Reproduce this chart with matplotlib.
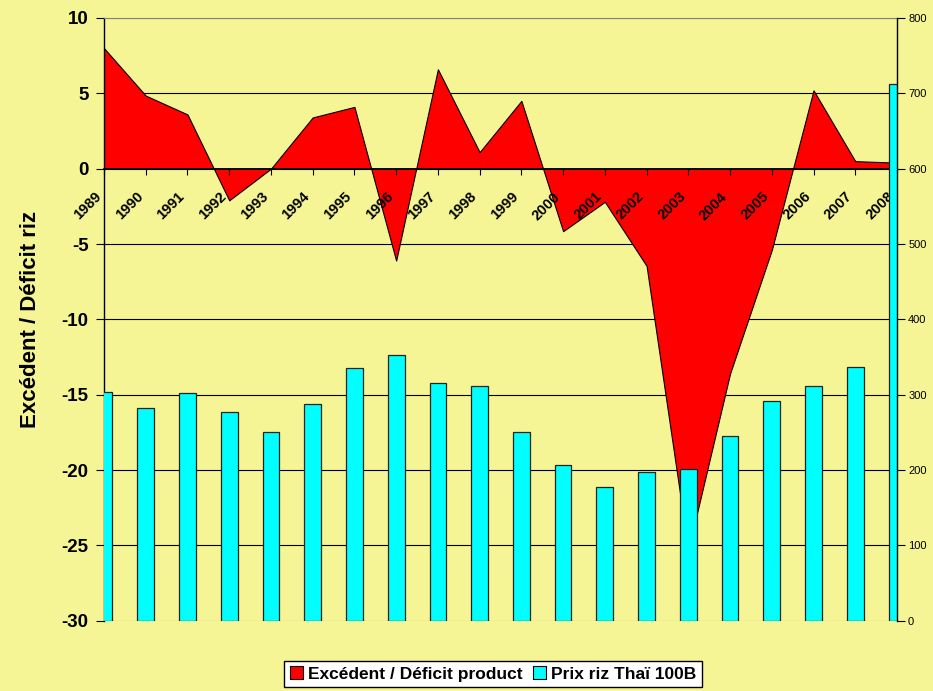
import matplotlib
matplotlib.use("Agg")
import matplotlib.pyplot as plt
from matplotlib.patches import Patch

years = list(range(1989, 2009))
year_labels = [str(y) for y in years]
surplus = [8.0, 4.85, 3.6, -2.1, 0.0, 3.4, 4.1, -6.1, 6.6, 1.1, 4.5,
           -4.15, -2.2, -6.45, -25.3, -13.6, -5.4, 5.2, 0.5, 0.4]
price = [303, 282, 302, 277, 250, 287, 335, 353, 315, 312, 250,
         207, 177, 197, 201, 245, 291, 311, 337, 712]
left_ticks = [10, 5, 0, -5, -10, -15, -20, -25, -30]
right_ticks = [0, 100, 200, 300, 400, 500, 600, 700, 800]

BG = "#F6F596"
RED = "#FF0000"
CYAN = "#00FFFF"

plt.rcParams['font.family'] = ['Liberation Sans', 'DejaVu Sans']

fig = plt.figure(figsize=(9.33, 6.91), dpi=100, facecolor=BG)
W, H = 933, 691
x0, x1, y0, y1 = 104, 897, 18, 620.7
ax = fig.add_axes([x0 / W, 1 - y1 / H, (x1 - x0) / W, (y1 - y0) / H])
ax.set_facecolor(BG)
ax.set_xlim(1989, 2008)
ax.set_ylim(-30, 10)

ax.fill_between(years, 0, surplus, facecolor=RED, edgecolor="black",
                linewidth=0.8, zorder=1.5)

ax.set_yticks(left_ticks)
ax.set_yticklabels([str(v) for v in left_ticks], fontsize=13.5, fontweight="bold")
ax.yaxis.grid(True, color="black", linewidth=0.8)
ax.set_axisbelow(True)
ax.xaxis.set_zorder(3)
gl = ax.get_ygridlines()
for g, v in zip(gl, left_ticks):
    if v in (10, -30):
        g.set_color("#808080")
ax.tick_params(axis="y", length=6, width=0.8, pad=5, colors="black")

ax.spines["bottom"].set_position(("data", 0))
ax.spines["bottom"].set_linewidth(1.3)
ax.spines["bottom"].set_zorder(3)
ax.spines["top"].set_color("#808080")
ax.spines["left"].set_linewidth(1.0)
ax.spines["right"].set_visible(False)
ax.set_xticks(years)
ax.set_xticklabels(year_labels, rotation=45, ha="right", fontsize=10.5,
                   fontweight="bold")
ax.tick_params(axis="x", length=4, width=0.8, direction="out", pad=11)

ax.set_ylabel("Excédent / Déficit riz", fontsize=16, fontweight="bold")
ax.yaxis.set_label_coords(-0.079, 0.5)

ax2 = ax.twinx()
ax2.set_ylim(0, 800)
ax2.bar(years, price, width=0.4, color=CYAN, edgecolor="#222222",
        linewidth=0.9, zorder=2)
ax2.set_yticks(right_ticks)
ax2.set_yticklabels([str(v) for v in right_ticks], fontsize=8)
ax2.tick_params(axis="y", length=6, width=0.8, pad=2)
for s in ["top", "bottom", "left"]:
    ax2.spines[s].set_visible(False)
ax2.spines["right"].set_linewidth(1.0)

handles = [Patch(facecolor=RED, edgecolor="black", linewidth=0.8),
           Patch(facecolor=CYAN, edgecolor="black", linewidth=0.8)]
leg = fig.legend(handles, ["Excédent / Déficit product", "Prix riz Thaï 100B"],
                 loc="upper center", bbox_to_anchor=(493 / W, 1 - 661 / H),
                 ncol=2, frameon=True, fancybox=False, edgecolor="black",
                 framealpha=1, facecolor="white",
                 prop={"size": 12.5, "weight": "bold"},
                 handlelength=0.75, handleheight=0.75, handletextpad=0.3,
                 columnspacing=0.6, borderpad=0.3, borderaxespad=0)
leg.get_frame().set_linewidth(1.0)

fig.savefig("out.png", dpi=100, facecolor=BG)
